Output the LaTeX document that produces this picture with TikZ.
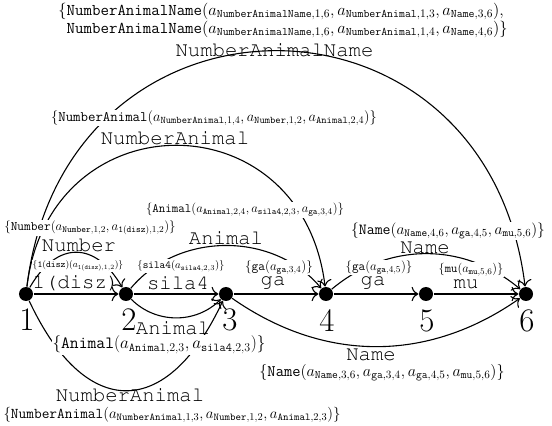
\documentclass[tikz,border=0pt]{standalone}
\usepackage{fix-cm}
\usepackage{amsmath}
\usepackage{fontspec}
\usetikzlibrary{arrows.meta}
\newcommand{\courfont}{\fontencoding{OT1}\fontfamily{pcr}\selectfont}
\newcommand{\aw}[2]{a_{\mathtt{#1},#2}}

\begin{document}
\begin{tikzpicture}[x=100bp, y=100bp, line width=1.1pt, >={To[scale=1.7]},
    state/.style={circle, fill=black, inner sep=0pt, minimum size=14bp},
    numlbl/.style={font=\fontsize{33}{36}\selectfont, inner sep=0pt},
    wordlbl/.style={font=\fontsize{20.7}{24}\courfont, inner sep=0pt},
    setlbl/.style={fill=white, inner sep=1pt, font=\fontsize{#1}{18}\selectfont}]
        \useasboundingbox (-0.26, -1.32) rectangle (5.26, 2.94);
        \node[state] (n1) at (0, 0) {};
        \node[state] (n2) at (1, 0) {};
        \node[state] (n3) at (2, 0) {};
        \node[state] (n4) at (3, 0) {};
        \node[state] (n5) at (4, 0) {};
        \node[state] (n6) at (5, 0) {};
        \node[numlbl] (d1) at (0.01, -0.26) {1};
        \node[numlbl] (d2) at (1.03, -0.26) {2};
        \node[numlbl] (d3) at (2.04, -0.26) {3};
        \node[numlbl] (d4) at (3.01, -0.27) {4};
        \node[numlbl] (d5) at (4.01, -0.27) {5};
        \node[numlbl] (d6) at (5.01, -0.27) {6};
        % straight edges
        \draw[->] (n1) -- (n2);
        \draw[->] (n2) -- (n3);
        \draw[->] (n3) -- (n4);
        \draw[->] (n4) -- (n5);
        \draw[->] (n5) -- (n6);
        % curved edges above
        \draw[->] (n1) to[out=60, in=120, looseness=1.5] (n2);
        \draw[->] (n1) to[out=83, in=97, looseness=1.63] (n4);
        \draw[->] (n1) to[out=83, in=97, looseness=1.63] (n6);
        \draw[->] (n2) to[bend left=50] (n4);
        \draw[->] (n4) to[bend left=40] (n6);
        % curved edges below
        \draw[->] (n2) to[bend right=45] (n3);
        \draw[->] (n3) to[bend right=35] (n6);
        \draw[->] (n1) to[out=-65, in=-115, looseness=1.75] (n3);
        % edge sets
        \node[setlbl=16.5, align=left] (s16) at (2.57, 2.735) {$\{\mathtt{NumberAnimalName}(\aw{NumberAnimalName}{1,6}, \aw{NumberAnimal}{1,3}, \aw{Name}{3,6}),$\\$\phantom{\{}\mathtt{NumberAnimalName}(\aw{NumberAnimalName}{1,6}, \aw{NumberAnimal}{1,4}, \aw{Name}{4,6})\}$};
        \node[setlbl=14.5] (s14) at (1.88, 1.76) {$\{\mathtt{NumberAnimal}(\aw{NumberAnimal}{1,4}, \aw{Number}{1,2}, \aw{Animal}{2,4})\}$};
        \node[setlbl=12.7] (s24) at (2.19, 0.84) {$\{\mathtt{Animal}(\aw{Animal}{2,4}, \aw{sila4}{2,3}, \aw{ga}{3,4})\}$};
        \node[setlbl=13] (s12n) at (0.64, 0.66) {$\{\mathtt{Number}(\aw{Number}{1,2}, \aw{1(disz)}{1,2})\}$};
        \node[setlbl=9.3] (s12d) at (0.52, 0.28) {$\{\mathtt{1(disz)}(\aw{1(disz)}{1,2})\}$};
        \node[setlbl=10.8] (s23s) at (1.55, 0.28) {$\{\mathtt{sila4}(\aw{sila4}{2,3})\}$};
        \node[setlbl=13.1] (s34) at (2.53, 0.265) {$\{\mathtt{ga}(\aw{ga}{3,4})\}$};
        \node[setlbl=12.9] (s45) at (3.53, 0.265) {$\{\mathtt{ga}(\aw{ga}{4,5})\}$};
        \node[setlbl=12.4] (s56) at (4.45, 0.245) {$\{\mathtt{mu}(\aw{mu}{5,6})\}$};
        \node[setlbl=15.5] (s46) at (4.22, 0.63) {$\{\mathtt{Name}(\aw{Name}{4,6}, \aw{ga}{4,5}, \aw{mu}{5,6})\}$};
        \node[setlbl=16.1] (s36) at (3.56, -0.79) {$\{\mathtt{Name}(\aw{Name}{3,6}, \aw{ga}{3,4}, \aw{ga}{4,5}, \aw{mu}{5,6})\}$};
        \node[setlbl=17.2] (s23a) at (1.33, -0.51) {$\{\mathtt{Animal}(\aw{Animal}{2,3}, \aw{sila4}{2,3})\}$};
        \node[setlbl=15] (s13) at (1.46, -1.21) {$\{\mathtt{NumberAnimal}(\aw{NumberAnimal}{1,3}, \aw{Number}{1,2}, \aw{Animal}{2,3})\}$};
        % edge names
        \node[wordlbl] (w16) at (2.485, 2.44) {NumberAnimalName};
        \node[wordlbl] (w14) at (1.49, 1.56) {NumberAnimal};
        \node[wordlbl] (w24) at (2.0, 0.56) {Animal};
        \node[wordlbl] (w12n) at (0.53, 0.49) {Number};
        \node[wordlbl] (w12d) at (0.5, 0.11) {1(disz)};
        \node[wordlbl] (w23s) at (1.52, 0.11) {sila4};
        \node[wordlbl] (w34) at (2.47, 0.11) {ga};
        \node[wordlbl] (w45) at (3.47, 0.11) {ga};
        \node[wordlbl] (w56) at (4.4, 0.10) {mu};
        \node[wordlbl] (w46) at (3.99, 0.46) {Name};
        \node[wordlbl] (w36) at (3.45, -0.61) {Name};
        \node[wordlbl] (w23a) at (1.47, -0.34) {Animal};
        \node[wordlbl] (w13) at (1.04, -1.01) {NumberAnimal};
\end{tikzpicture}
\end{document}
